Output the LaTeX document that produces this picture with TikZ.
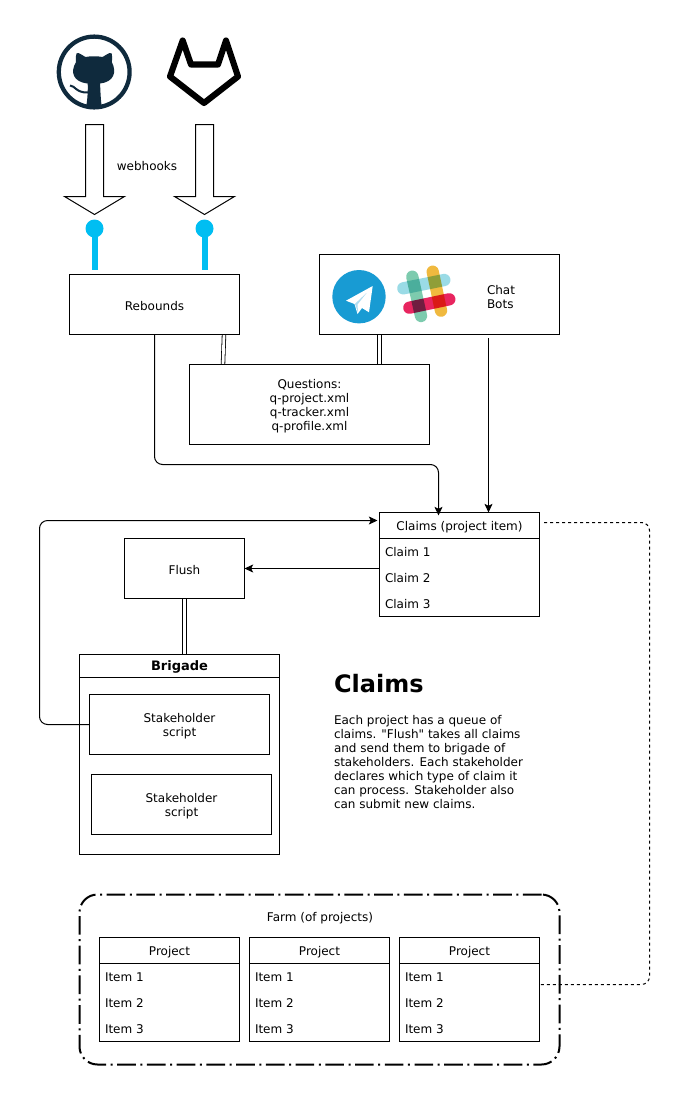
\documentclass[tikz,border=0pt]{standalone}
\usepackage{fontspec}
\setmainfont[Ligatures=TeXOff]{DejaVu Sans}
\usetikzlibrary{arrows.meta}
\pgfdeclarelayer{under}
\pgfsetlayers{under,main}
\definecolor{ghblue}{HTML}{0F2A3D}
\definecolor{lolly}{HTML}{00BEF2}
\definecolor{tgblue}{HTML}{189BD3}
\definecolor{slblue}{HTML}{9ADBE6}
\definecolor{slgreen}{HTML}{7DCBAE}
\definecolor{slyellow}{HTML}{F0B93F}
\definecolor{slred}{HTML}{E8255F}
\tikzset{
  base/.style={font=\fontsize{9}{10.5}\selectfont, text=black},
  boxn/.style={draw=black, line width=.75pt, fill=white, inner sep=0pt, outer sep=0pt},
  plain/.style={base, inner sep=0pt, outer sep=0pt},
  itemtxt/.style={plain, anchor=west},
  blocktxt/.style={plain, align=center, yshift=-1pt},
  conn/.style={line width=.75pt, draw=black, rounded corners=6pt, -{Stealth[length=6.5pt,width=6pt,inset=1.5pt]}},
  dbl/.style={draw=black, line width=.6pt, double=white, double distance=2.1pt},
  bigarrow/.style={draw=black, line width=.75pt, fill=white, line join=miter},
  lollystem/.style={draw=lolly, line width=4.5pt},
  lollyhead/.style={circle, fill=lolly, minimum size=13.5pt, inner sep=0pt},
  slbar/.style={line width=9.2pt, line cap=round, blend mode=multiply},
}
\newcommand{\pxbox}[6][]{%
  \node[boxn,#1,minimum width={(#4-#2)*0.75pt},minimum height={(#5-#3)*0.75pt}] (#6) at ({(#2+#4)/2},{(#3+#5)/2})}
\begin{document}
\begin{tikzpicture}[x=.75pt,y=-.75pt]
\useasboundingbox (0,0) rectangle (684,1100);
\begin{pgfonlayer}{under}
\fill[white] (0,0) rectangle (684,1100);
\end{pgfonlayer}

% GitHub
\draw[ghblue, line width=3.2pt] (94.2,72) circle (35.4);
\fill[ghblue] (76.5,53.5) .. controls (77,52) and (78,52.5) .. (85.5,57)
  .. controls (90,56) and (98,56) .. (102.5,57)
  .. controls (110,52.5) and (111,52) .. (111.7,53.5)
  .. controls (112.3,57) and (112.5,60) .. (111.8,62)
  .. controls (117,72) and (114,82) .. (100,83.5)
  .. controls (100.5,90) and (100.5,100) .. (102,107.5)
  -- (86,107.5)
  .. controls (87.5,100) and (88,90) .. (87.7,83.5)
  .. controls (73,82) and (70,72) .. (76,62)
  .. controls (75.5,60) and (75.7,57) .. (76.5,53.5) -- cycle;
\draw[ghblue, line width=1.5pt] (70,85.5) .. controls (75,85.5) and (76,93) .. (88,92.5);

% GitLab
\draw[black, line width=4.6pt, line join=round]
  (182.7,40.5) -- (191,64.5) -- (218,64.5) -- (226,40.5) -- (238,76.5) -- (204,103) -- (170,76.5) -- cycle;

% webhook arrows
\draw[bigarrow] (85.5,124.5) -- (103.5,124.5) -- (103.5,196.5) -- (124.5,196.5) -- (94.5,214.5) -- (64.5,196.5) -- (85.5,196.5) -- cycle;
\draw[bigarrow] (195.5,124.5) -- (213.5,124.5) -- (213.5,196.5) -- (234.5,196.5) -- (204.5,214.5) -- (174.5,196.5) -- (195.5,196.5) -- cycle;
\node[blocktxt] (webhooks) at (147,164.5) {webhooks};

% lollipops
\node[lollyhead] (lolA) at (94.5,228.5) {};
\node[lollyhead] (lolB) at (204.5,228.5) {};
\coordinate (lolAend) at (94.5,269.5);
\coordinate (lolBend) at (204.5,269.5);
\draw[lollystem] (lolA.center) -- (lolAend);
\draw[lollystem] (lolB.center) -- (lolBend);

% double links go under the boxes
\coordinate (rq1) at (224,334.5);
\coordinate (rq2) at (223,364.5);
\draw[dbl] (rq1) -- (rq2);
\coordinate (cq1) at (379.5,334.5);
\coordinate (cq2) at (379.5,364.5);
\draw[dbl] (cq1) -- (cq2);
\coordinate (fb1) at (184.5,598);
\coordinate (fb2) at (184.5,655);
\draw[dbl] (fb1) -- (fb2);

% top boxes
\pxbox{69.5}{274.5}{239.5}{334.5}{reb} {};
\node[blocktxt] (reblbl) at (reb.center) {Rebounds};
\pxbox{319.5}{254.5}{559.5}{334.5}{chat} {};
\pxbox{189.5}{364.5}{429.5}{444.5}{quest} {};
\node[blocktxt] (questlbl) at (quest.center) {Questions:\\q-project.xml\\q-tracker.xml\\q-profile.xml};
\node[plain, align=left, anchor=west] (chatlbl) at (487,297) {Chat\\Bots};

% Telegram
\fill[tgblue] (359,296.7) circle (26.7);
\fill[white] (372.7,286) -- (346,300.7) -- (354.5,304) -- (357.5,314) -- (362,308) -- (369,312.3) -- cycle;
\fill[tgblue!35] (355,303.8) -- (366.5,293) -- (357.5,304.5) -- (358,312.5) -- cycle;

% Slack
\draw[slbar, slblue] (403.3,288.3) -- (444.3,280);
\draw[slbar, slgreen] (412.3,276.7) -- (421,316);
\draw[slbar, slyellow] (432.7,271.7) -- (441,310.7);
\draw[slbar, slred] (409.3,307.7) -- (449.3,299.3);

% claims
\pxbox{379.5}{512.5}{539.5}{538.5}{claims} {};
\node[blocktxt] (claimslbl) at (claims.center) {Claims (project item)};
\pxbox{379.5}{538.5}{539.5}{616.5}{claimsb} {};
\node[itemtxt] (c1) at (385,552) {Claim 1};
\node[itemtxt] (c2) at (385,578) {Claim 2};
\node[itemtxt] (c3) at (385,604) {Claim 3};

\pxbox{124.5}{538.5}{244.5}{598.5}{flush} {};
\node[blocktxt] (flushlbl) at (flush.center) {Flush};

% brigade
\pxbox{79.5}{654.5}{279.5}{677.5}{brigade} {};
\node[blocktxt] (brigadelbl) at (brigade.center) {\fontsize{9.75}{11}\selectfont\bfseries Brigade};
\pxbox{79.5}{677.5}{279.5}{854.5}{brigadeb} {};
\pxbox{89.5}{694.5}{269.5}{754.5}{sh1} {};
\node[blocktxt] (sh1lbl) at (sh1.center) {Stakeholder\\script};
\pxbox{91.5}{774.5}{271.5}{834.5}{sh2} {};
\node[blocktxt] (sh2lbl) at (sh2.center) {Stakeholder\\script};

% text
\node[plain, anchor=west] (title) at (334,683.5) {\fontsize{18}{20}\selectfont\bfseries Claims};
\node[plain, anchor=north west, align=left] (desc) at (334,715.5) {Each project has a queue of\\claims. "Flush" takes all claims\\and send them to brigade of\\stakeholders. Each stakeholder\\declares which type of claim it\\can process. Stakeholder also\\can submit new claims.};

% farm
\node[boxn, fill=none, draw=black, line width=1.5pt, rounded corners=13.5pt,
      dash pattern=on 14pt off 3.4pt on 1.5pt off 3.4pt,
      minimum width={480*0.75pt}, minimum height={170*0.75pt}] (farm) at (319.5,979.5) {};
\node[plain] (farmlbl) at (320,918) {Farm (of projects)};
\pxbox{99.5}{937.5}{239.5}{963.5}{p1} {};
\node[blocktxt] (p1lbl) at (p1.center) {Project};
\pxbox{99.5}{963.5}{239.5}{1041.5}{p1b} {};
\pxbox{249.5}{937.5}{389.5}{963.5}{p2} {};
\node[blocktxt] (p2lbl) at (p2.center) {Project};
\pxbox{249.5}{963.5}{389.5}{1041.5}{p2b} {};
\pxbox{399.5}{937.5}{539.5}{963.5}{p3} {};
\node[blocktxt] (p3lbl) at (p3.center) {Project};
\pxbox{399.5}{963.5}{539.5}{1041.5}{p3b} {};
\node[itemtxt] (i11) at (105,977) {Item 1};
\node[itemtxt] (i12) at (105,1003) {Item 2};
\node[itemtxt] (i13) at (105,1029) {Item 3};
\node[itemtxt] (i21) at (255,977) {Item 1};
\node[itemtxt] (i22) at (255,1003) {Item 2};
\node[itemtxt] (i23) at (255,1029) {Item 3};
\node[itemtxt] (i31) at (405,977) {Item 1};
\node[itemtxt] (i32) at (405,1003) {Item 2};
\node[itemtxt] (i33) at (405,1029) {Item 3};

% connectors
\coordinate (rebout) at (154.5,334.5);
\coordinate (clin) at (438.5,515.5);
\draw[conn] (rebout) -- (154.5,464.5) -- (438.5,464.5) -- (clin);
\coordinate (chatout) at (488.5,338);
\coordinate (clin2) at (488.5,512.5);
\draw[conn] (chatout) -- (clin2);
\draw[conn] (claimsb.west |- 0,568.5) -- (flush.east |- 0,568.5);
\draw[conn] (sh1.west) -- (39.5,724.5) -- (39.5,520.5) -- (377.5,520.5);
\coordinate (dashstart) at (544,522.5);
\coordinate (dashend) at (539.5,984.5);
\draw[line width=.75pt, rounded corners=6pt, dash pattern=on 2.25pt off 2.25pt] (dashstart) -- (649.5,522.5) -- (649.5,984.5) -- (dashend);
\end{tikzpicture}
\end{document}
